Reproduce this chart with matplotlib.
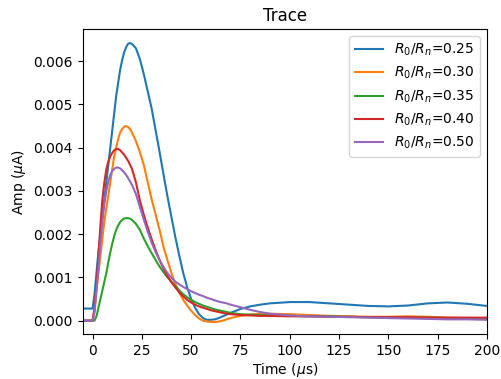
import matplotlib
matplotlib.use("Agg")
import matplotlib.pyplot as plt
import numpy as np

# time axis (us), shared by all traces
time_us = np.array([-5, 0, 1, 2, 3, 4, 5, 6, 7, 8, 9, 10, 11, 12, 13, 14, 15, 16, 17, 18, 19, 20,
                    22, 24, 26, 28, 30, 32, 34, 36, 38, 40, 42, 44, 46, 48, 50, 52, 54, 56, 58,
                    60, 62, 64, 66, 68, 70, 75, 80, 85, 90,
                    100, 110, 120, 130, 140, 150, 160, 170, 180, 190, 200])

amp_025 = np.array([0.00028, 0.00028, 0.0006, 0.0011, 0.0016, 0.0020, 0.0024, 0.0028, 0.0032,
                    0.0036, 0.0040, 0.0044, 0.0048, 0.0052, 0.0055, 0.0058, 0.00602, 0.0062,
                    0.00632, 0.0064, 0.00642, 0.0064,
                    0.0063, 0.00605, 0.0057, 0.0053, 0.0049, 0.0044, 0.0039, 0.00338, 0.00287,
                    0.0024, 0.00193, 0.0015, 0.0011, 0.00077, 0.0005, 0.0003, 0.00015, 0.00006,
                    0.00002, 0.00002, 0.00003, 0.00006, 0.0001, 0.00014, 0.00018,
                    0.00027, 0.00033, 0.00037, 0.0004,
                    0.00043, 0.00043, 0.0004, 0.00037, 0.00034, 0.00033, 0.00035, 0.0004,
                    0.00042, 0.00039, 0.00034])
amp_030 = np.array([0.0, 0.0, 0.0002, 0.0007, 0.0011, 0.0015, 0.0019, 0.0023, 0.0026, 0.0029,
                    0.0032, 0.0035, 0.0038, 0.0040, 0.0042, 0.00435, 0.00443, 0.00448, 0.0045,
                    0.00448, 0.00443, 0.00435,
                    0.00415, 0.0039, 0.0036, 0.0032, 0.0028, 0.00245, 0.0021, 0.0017, 0.0014,
                    0.0011, 0.00085, 0.00065, 0.00048, 0.00035, 0.00023, 0.00013, 0.00005, 0.0,
                    -0.00002, -0.00003, -0.00003, -0.00002, 0.0, 0.00003, 0.00006,
                    0.00011, 0.00014, 0.00016, 0.00016,
                    0.00015, 0.00013, 0.00011, 0.0001, 0.00009, 0.00009, 0.0001, 0.00009,
                    0.00007, 0.00006, 0.00005])
amp_035 = np.array([0.0, 0.0, 0.0, 0.0001, 0.0003, 0.0005, 0.0007, 0.0009, 0.0011, 0.00135,
                    0.00158, 0.00178, 0.00196, 0.0021, 0.0022, 0.00228, 0.00233, 0.00236,
                    0.00237, 0.00237, 0.00236, 0.00233,
                    0.00224, 0.0021, 0.0019, 0.00172, 0.00156, 0.0014, 0.00125, 0.00112, 0.001,
                    0.0009, 0.0008, 0.0007, 0.00061, 0.00054, 0.00048, 0.00043, 0.00039,
                    0.00035, 0.00032, 0.00029, 0.00026, 0.00024, 0.00022, 0.0002, 0.00018,
                    0.00015, 0.00014, 0.00013, 0.00012,
                    0.00011, 0.0001, 0.0001, 0.00009, 0.00008, 0.00008, 0.00007, 0.00007,
                    0.00006, 0.00006, 0.00005])
amp_040 = np.array([0.0, 0.0, 0.0003, 0.0008, 0.0015, 0.0022, 0.0028, 0.0032, 0.0035, 0.00368,
                    0.0038, 0.00388, 0.00394, 0.00397, 0.00397, 0.00394, 0.00389, 0.00384,
                    0.00377, 0.0037, 0.00361, 0.00351,
                    0.0032, 0.00278, 0.00245, 0.00215, 0.00188, 0.00163, 0.0014, 0.0012,
                    0.00103, 0.00089, 0.00077, 0.00065, 0.00056, 0.00048, 0.00042, 0.00037,
                    0.00033, 0.0003, 0.00027, 0.00024, 0.00022, 0.0002, 0.00018, 0.00016,
                    0.00015,
                    0.00013, 0.00012, 0.00011, 0.00011,
                    0.0001, 0.0001, 0.00009, 0.00009, 0.00008, 0.00008, 0.00008, 0.00007,
                    0.00007, 0.00007, 0.00007])
amp_050 = np.array([0.0, 0.0, 0.0002, 0.0007, 0.0012, 0.0018, 0.0023, 0.0027, 0.0030, 0.00322,
                    0.00337, 0.00346, 0.00351, 0.00354, 0.00354, 0.00352, 0.00348, 0.00343,
                    0.00337, 0.0033, 0.00322, 0.00314,
                    0.00293, 0.00263, 0.00234, 0.00206, 0.0018, 0.00159, 0.0014, 0.00124,
                    0.0011, 0.00099, 0.0009, 0.00084, 0.00078, 0.00073, 0.00068, 0.00064,
                    0.0006, 0.00057, 0.00053, 0.0005, 0.00047, 0.00044, 0.00042, 0.0004,
                    0.00037,
                    0.00031, 0.00025, 0.0002, 0.00016,
                    0.00012, 0.0001, 0.00009, 0.00008, 0.00007, 0.00006, 0.00005, 0.00004,
                    0.00003, 0.00003, 0.00002])

ratios = ["0.25", "0.30", "0.35", "0.40", "0.50"]
traces = [amp_025, amp_030, amp_035, amp_040, amp_050]

fig = plt.figure(figsize=(5.01, 3.79), dpi=100)
ax = fig.add_axes([0.165, 0.118, 0.807, 0.805])
for r, amp in zip(ratios, traces):
    ax.plot(time_us, amp, label=r"$R_0/R_n$=" + r)

ax.set_xlim(-5, 200)
ax.set_ylim(-0.000315, 0.00674)
ax.set_xlabel(r"Time ($\mu$s)", labelpad=2)
ax.set_ylabel(r"Amp ($\mu$A)")
ax.set_title("Trace")
ax.legend(loc="upper right")
fig.savefig("out.png", dpi=100)
